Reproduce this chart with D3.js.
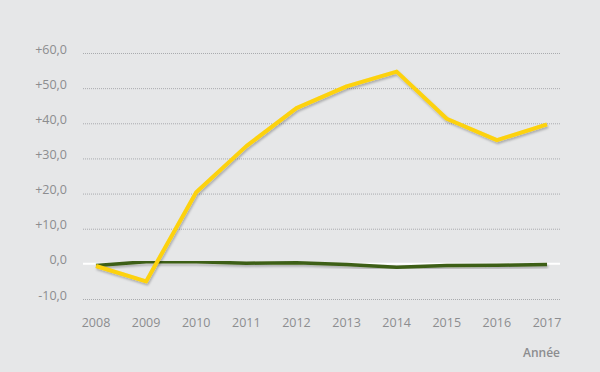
<!DOCTYPE html>
<html>
<head>
  <meta charset="utf-8">
  <script src="https://d3js.org/d3.v7.min.js"></script>
  <style>
    body { margin: 0; background: #e6e7e8; }
    svg { display: block; font-family: "Open Sans", "Noto Sans", sans-serif; }
  </style>
</head>
<body>
<script>
  // years on the x axis
  var years = [2008, 2009, 2010, 2011, 2012, 2013, 2014, 2015, 2016, 2017];
  // yellow series
  var yellowValues = [-0.6, -5.0, 20.4, 33.5, 44.3, 50.5, 54.7, 41.3, 35.2, 39.7];
  // dark green series
  var greenValues = [-0.5, 0.6, 0.6, 0.2, 0.3, -0.2, -1.0, -0.5, -0.4, -0.2];
  // y ticks
  var yTicks = [-10, 0, 10, 20, 30, 40, 50, 60];

  var W = 600, H = 372;
  var svg = d3.select("body").append("svg")
    .attr("width", W).attr("height", H);

  var defs = svg.append("defs");
  var f = defs.append("filter").attr("id", "shadow")
    .attr("x", "-5%").attr("y", "-5%").attr("width", "110%").attr("height", "120%");
  f.append("feDropShadow").attr("dx", 1).attr("dy", 2).attr("stdDeviation", 1.2)
    .attr("flood-color", "#000").attr("flood-opacity", 0.25);

  var x = d3.scalePoint().domain(years).range([96, 547]);
  var y = d3.scaleLinear().domain([-10, 60]).range([299, 53]);

  /* gridlines */
  svg.append("g").selectAll("line")
    .data(yTicks.filter(function(t) { return t !== 0; }))
    .enter().append("line")
    .attr("x1", 83).attr("x2", 560)
    .attr("y1", function(d) { return y(d) + 0.5; })
    .attr("y2", function(d) { return y(d) + 0.5; })
    .attr("stroke", "#a9abae")
    .attr("stroke-width", 1)
    .attr("stroke-dasharray", "1,1");

  // zero line in white
  svg.append("line")
    .attr("x1", 83).attr("x2", 560)
    .attr("y1", y(0)).attr("y2", y(0))
    .attr("stroke", "#ffffff").attr("stroke-width", 2);

  /* y tick labels */
  svg.append("g").selectAll("text")
    .data(yTicks).enter().append("text")
    .attr("x", 67)
    .attr("y", function(d) { return y(d) + 0.5; })
    .attr("text-anchor", "end")
    .attr("fill", "#8c8d8f")
    .style("font-size", "12.5px")
    .text(function(d) {
      var s = d.toFixed(1).replace(".", ",");
      return d > 0 ? "+" + s : s;
    });

  /* x tick labels */
  svg.append("g").selectAll("text")
    .data(years).enter().append("text")
    .attr("x", function(d) { return x(d); })
    .attr("y", 327)
    .attr("text-anchor", "middle")
    .attr("fill", "#8c8d8f")
    .style("font-size", "12.5px")
    .text(function(d) { return d; });

  svg.append("text")
    .attr("x", 560).attr("y", 357)
    .attr("text-anchor", "end")
    .attr("fill", "#8c8d8f")
    .style("font-size", "12px")
    .style("font-weight", "600")
    .text("Année");

  /* lines */
  var line = d3.line()
    .x(function(d, i) { return x(years[i]); })
    .y(function(d) { return y(d); });

  svg.append("path").datum(greenValues)
    .attr("d", line)
    .attr("fill", "none")
    .attr("stroke", "#3d5f16")
    .attr("stroke-width", 3.5)
    .attr("stroke-linejoin", "round")
    .attr("filter", "url(#shadow)");

  svg.append("path").datum(yellowValues)
    .attr("d", line)
    .attr("fill", "none")
    .attr("stroke", "#fdd20a")
    .attr("stroke-width", 4)
    .attr("stroke-linejoin", "round")
    .attr("filter", "url(#shadow)");
</script>
</body>
</html>
